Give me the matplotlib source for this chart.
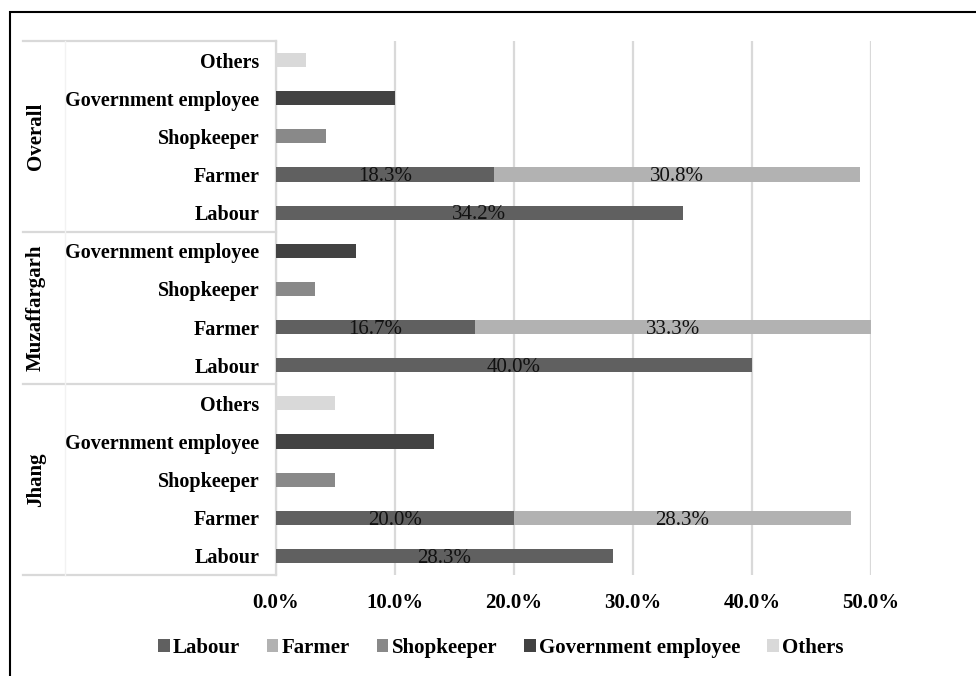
import matplotlib
matplotlib.use('Agg')
import matplotlib.pyplot as plt
import matplotlib.transforms as mtransforms
from matplotlib.patches import Rectangle
import numpy as np

plt.rcParams['font.family'] = ['Liberation Serif', 'DejaVu Serif']

# rows from bottom to top (Jhang, Muzaffargarh, Overall)
groups = ['Jhang', 'Muzaffargarh', 'Overall']
group_rows = [5, 4, 5]
row_labels = ['Labour', 'Farmer', 'Shopkeeper', 'Government employee', 'Others',
              'Labour', 'Farmer', 'Shopkeeper', 'Government employee',
              'Labour', 'Farmer', 'Shopkeeper', 'Government employee', 'Others']

series = ['Labour', 'Farmer', 'Shopkeeper', 'Government employee', 'Others']
labour = [28.3, 20.0, 0, 0, 0, 40.0, 16.7, 0, 0, 34.2, 18.3, 0, 0, 0]
farmer = [0, 28.3, 0, 0, 0, 0, 33.3, 0, 0, 0, 30.8, 0, 0, 0]
shopkeeper = [0, 0, 5.0, 0, 0, 0, 0, 3.3, 0, 0, 0, 4.2, 0, 0]
government = [0, 0, 0, 13.3, 0, 0, 0, 0, 6.7, 0, 0, 0, 10.0, 0]
others = [0, 0, 0, 0, 5.0, 0, 0, 0, 0, 0, 0, 0, 0, 2.5]
colors = ['#606060', '#b2b2b2', '#898989', '#424242', '#d9d9d9']

W, H = 976, 676
fig = plt.figure(figsize=(W / 100, H / 100), dpi=100)
ax = fig.add_axes([276 / W, 1 - 575 / H, (871 - 276) / W, (575 - 41) / H])

y = np.arange(len(row_labels))
left = np.zeros(len(row_labels))
for name, vals, col in zip(series, [labour, farmer, shopkeeper, government, others], colors):
    vals = np.array(vals, dtype=float)
    ax.barh(y, vals, left=left, height=0.37, color=col, label=name, zorder=3)
    if name in ('Labour', 'Farmer'):
        for yi, l, v in zip(y, left, vals):
            if v > 0:
                ax.text(l + v / 2, yi - 0.06, f'{v:.1f}%', ha='center', va='center',
                        fontsize=15, color='#111111', zorder=4)
    left += vals

ax.set_xlim(0, 50)
ax.set_ylim(-0.5, len(row_labels) - 0.5)
ticks = np.arange(0, 51, 10)
ax.set_xticks(ticks)
ax.set_xticklabels([f'{t:.1f}%' for t in ticks], fontweight='bold', fontsize=15)
ax.set_yticks(y)
ax.set_yticklabels(row_labels, fontweight='bold', fontsize=14.5)
ax.tick_params(axis='x', length=0, pad=13)
ax.tick_params(axis='y', length=0, pad=12)
ax.grid(axis='x', color='#d9d9d9', lw=1.6, zorder=0)
for s in ['top', 'right', 'bottom']:
    ax.spines[s].set_visible(False)
ax.spines['left'].set_color('#d9d9d9')
ax.spines['left'].set_linewidth(1.6)

# group labels and separators on the left
trans = mtransforms.blended_transform_factory(fig.transFigure, ax.transData)
start = 0
bounds = [-0.5]
for g, n in zip(groups, group_rows):
    ax.text(36 / W, start + (n - 1) / 2, g, transform=trans, rotation=90,
            ha='center', va='center', fontweight='bold', fontsize=15)
    start += n
    bounds.append(start - 0.5)
for b in bounds:
    ax.plot([23 / W, 276 / W], [b, b], transform=trans, color='#d9d9d9', lw=1.6, clip_on=False)
ax.plot([65 / W, 65 / W], [-0.5, len(row_labels) - 0.5], transform=trans,
        color='#f2f2f2', lw=1, clip_on=False)

# outer border
fig.add_artist(Rectangle((9.5 / W, -0.1), 1.2, 1 - 12 / H + 0.1, fill=False,
                         ec='black', lw=1.5, transform=fig.transFigure))

handles, labels = ax.get_legend_handles_labels()
fig.legend(handles, labels, ncol=5, loc='center', bbox_to_anchor=(0.513, 1 - 648 / H),
           frameon=False, prop={'weight': 'bold', 'size': 15}, handlelength=0.55,
           handleheight=0.55, handletextpad=0.15, columnspacing=1.3)

fig.savefig('out.png', dpi=100)
